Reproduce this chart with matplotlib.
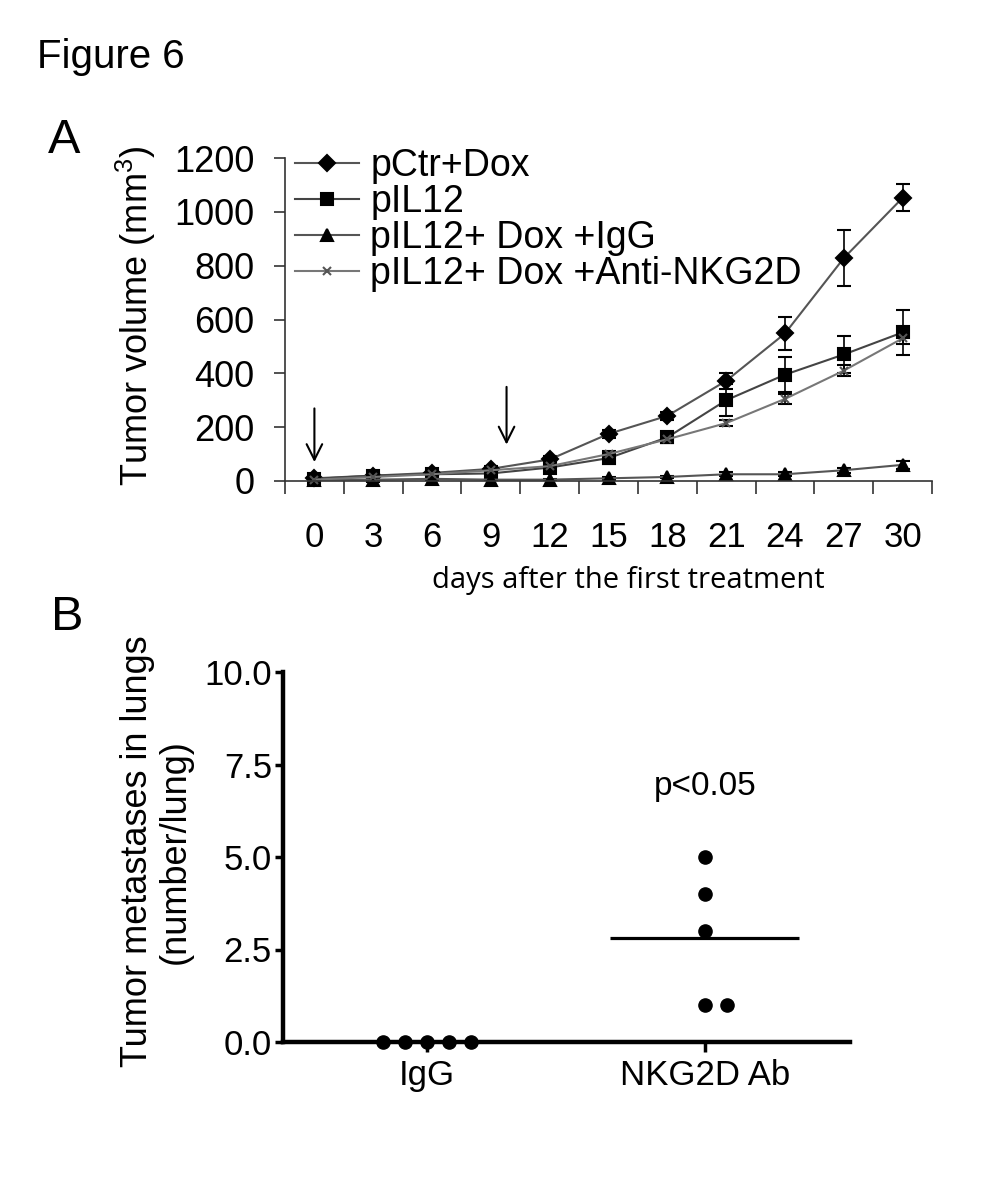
import numpy as np
import matplotlib
matplotlib.use("Agg")
import matplotlib.pyplot as plt
import matplotlib as mpl
from matplotlib.lines import Line2D

mpl.rcParams["font.family"] = ["Liberation Sans", "DejaVu Sans"]
mpl.rcParams["mathtext.fontset"] = "custom"
mpl.rcParams["mathtext.rm"] = "Liberation Sans"
mpl.rcParams["mathtext.default"] = "regular"

# ---- panel A data: tumor volume (mm^3) vs days ----
days = [0, 3, 6, 9, 12, 15, 18, 21, 24, 27, 30]
pctr_dox = [10, 20, 30, 45, 80, 175, 242, 372, 548, 828, 1052]
pctr_dox_err = [5, 5, 8, 10, 12, 15, 15, 30, 60, 105, 50]
pil12 = [8, 20, 25, 28, 50, 85, 162, 300, 395, 470, 552]
pil12_err = [5, 6, 8, 8, 10, 20, 20, 60, 65, 70, 85]
pil12_igg = [5, 5, 8, 5, 5, 10, 15, 25, 25, 40, 60]
pil12_igg_err = [3, 3, 3, 3, 3, 5, 5, 8, 8, 10, 15]
pil12_nkg2d = [5, 15, 25, 40, 55, 100, 155, 215, 305, 410, 530]
pil12_nkg2d_err = [3, 4, 5, 6, 8, 10, 12, 12, 20, 20, 20]
labels_a = ["pCtr+Dox", "pIL12", "pIL12+ Dox +IgG", "pIL12+ Dox +Anti-NKG2D"]

# treatment arrows (day, top, bottom)
arrow_days = [0, 9.8]
arrow_top = [280, 360]
arrow_bottom = [60, 125]

# ---- panel B data: lung metastases ----
groups = ["IgG", "NKG2D Ab"]
igg_mets = [0, 0, 0, 0, 0]
nkg2d_mets = [5, 4, 3, 1, 1]

fig = plt.figure(figsize=(10.04, 11.81), dpi=100, facecolor="w")

fig.text(37 / 1004, 1 - 68 / 1181, "Figure 6", fontsize=29, va="baseline", ha="left")
fig.text(48 / 1004, 1 - 153 / 1181, "A", fontsize=35, va="baseline", ha="left")
fig.text(51 / 1004, 1 - 630 / 1181, "B", fontsize=35, va="baseline", ha="left")

# ================= panel A =================
ax = fig.add_axes([285 / 1004, 1 - 481 / 1181, 647 / 1004, 323 / 1181])

series = [
    (pctr_dox, pctr_dox_err, "D", 8.5, "#555555", "black"),
    (pil12, pil12_err, "s", 8, "#444444", "black"),
    (pil12_igg, pil12_igg_err, "^", 9, "#555555", "black"),
    (pil12_nkg2d, pil12_nkg2d_err, "x", 6, "#777777", "#555555"),
]
handles = []
for (vals, err, mk, ms, lc, mc), lab in zip(series, labels_a):
    ax.errorbar(days, vals, yerr=err, color=lc, lw=1.5, marker=mk, ms=ms,
                mfc=mc, mec=mc, mew=1.5, ecolor="black", elinewidth=1.2,
                capsize=5, capthick=1.2, clip_on=False)
    handles.append(Line2D([], [], color=lc, lw=1.5, marker=mk, ms=ms,
                          mfc=mc, mec=mc, mew=1.5, label=lab))

for d, t, b in zip(arrow_days, arrow_top, arrow_bottom):
    ax.annotate("", xy=(d, b), xytext=(d, t),
                arrowprops=dict(arrowstyle="->", lw=1.5, color="black",
                                mutation_scale=28))

ax.set_xlim(-1.5, 31.5)
ax.set_ylim(0, 1200)
ax.set_xticks(np.arange(-1.5, 32, 3))
ax.set_xticklabels([])
ax.set_xticks(days, minor=True)
ax.set_xticklabels([str(d) for d in days], minor=True)
ax.set_yticks(np.arange(0, 1201, 200))
ax.tick_params(axis="x", which="major", length=9, width=1.2, color="#333333", direction="out")
ax.tick_params(axis="x", which="minor", length=0, pad=29, labelsize=25)
ax.tick_params(axis="y", length=8, width=1.2, color="#333333", pad=14, labelsize=26)
for s in ["top", "right"]:
    ax.spines[s].set_visible(False)
for s in ["left", "bottom"]:
    ax.spines[s].set_color("#333333")
    ax.spines[s].set_linewidth(1.2)

ax.set_ylabel(r"Tumor volume (mm$^{3}$)", fontsize=26)
ax.yaxis.set_label_coords(-0.197, 0.51)
ax.set_xlabel("days after the first treatment", fontsize=21,
              fontfamily=["Open Sans", "DejaVu Sans"])
ax.xaxis.set_label_coords(0.53, -0.262)

ax.legend(handles=handles, loc="upper left", bbox_to_anchor=(0.015, 1.03),
          frameon=False, fontsize=27, handlelength=1.72, handletextpad=0.3,
          labelspacing=0.0, borderpad=0, borderaxespad=0)

# ================= panel B =================
ax2 = fig.add_axes([283 / 1004, 1 - 1042 / 1181, 567 / 1004, 370 / 1181])
step = 0.08
for pos, vals in zip([1, 2], [igg_mets, nkg2d_mets]):
    xs = []
    counts = {}
    for v in vals:
        k = counts.get(v, 0)
        counts[v] = k + 1
        n = vals.count(v)
        xs.append(pos + (k - (n - 1) // 2) * step)
    ax2.plot(xs, vals, "o", color="black", ms=9.5, clip_on=False, zorder=5)
    ax2.hlines(np.mean(vals), pos - 0.34, pos + 0.34, color="black", lw=2.3, zorder=4)

ax2.text(2, 6.9, "p<0.05", ha="center", va="center", fontsize=24)

ax2.set_xlim(0.482, 2.522)
ax2.set_ylim(0, 10)
ax2.set_xticks([1, 2])
ax2.set_xticklabels(groups)
ax2.set_yticks([0, 2.5, 5, 7.5, 10])
ax2.set_yticklabels(["0.0", "2.5", "5.0", "7.5", "10.0"])
ax2.tick_params(axis="x", length=7, width=2.5, pad=5, labelsize=25)
ax2.tick_params(axis="y", length=6, width=2.5, pad=2, labelsize=25)
for s in ["top", "right"]:
    ax2.spines[s].set_visible(False)
for s in ["left", "bottom"]:
    ax2.spines[s].set_linewidth(3.2)

ax2.set_ylabel("Tumor metastases in lungs\n(number/lung)", fontsize=26, linespacing=1.1)
ax2.yaxis.set_label_coords(-0.159, 0.515)

fig.savefig("out.png", dpi=100, facecolor="w")
